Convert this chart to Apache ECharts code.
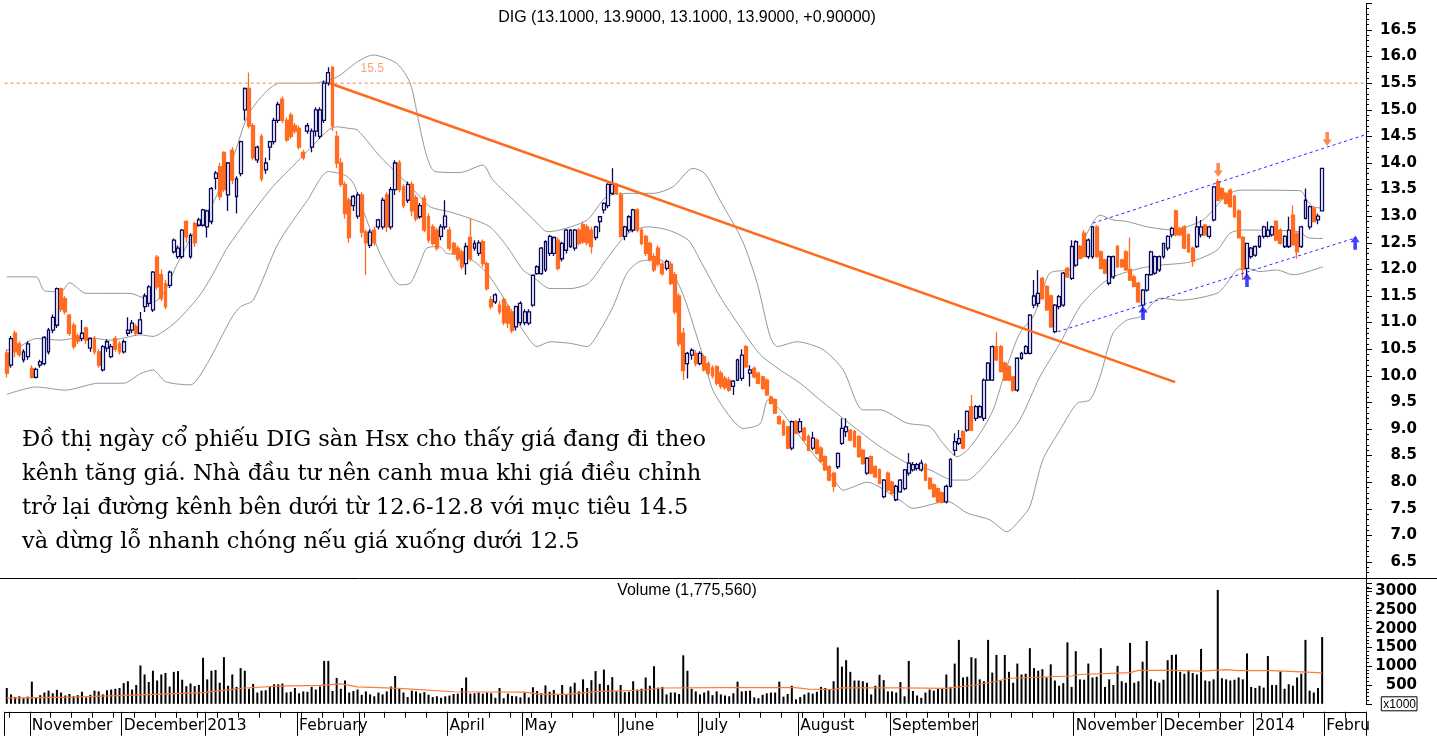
<!DOCTYPE html>
<html><head><meta charset="utf-8">
<script src="https://cdn.jsdelivr.net/npm/echarts@6.0.0/dist/echarts.min.js"></script>
<style>html,body{margin:0;padding:0;background:#fff}#c{width:1437px;height:736px}</style>
</head><body><div id="c"></div>
<script>
// ---------- DATA ----------
const monthLengths = [6,22,20,22,15,21,18,23,19,24,22,21,23,21,22,17];
const monthLabels = ['', 'November','December','2013','February','','April','May','June','July','August','September','','November','December','2014'];
const tailLabel = 'Febru';
const TOTAL_SLOTS = 326;

const opens = [
10.43,10.2,10.8,10.6,10.3,10.36,10.14,9.97,10.2,10.23,
10.45,10.86,10.95,11.64,11.45,11.14,10.95,10.75,10.7,10.9,
10.52,10.7,10.45,10.11,10.52,10.36,10.7,10.6,10.45,10.8,
10.86,10.93,10.8,11.3,11.36,11.24,12.23,11.9,11.73,11.7,
12.33,12.24,12.24,12.9,12.24,12.86,12.83,12.83,12.8,12.9,
13.71,13.93,14.2,13.4,14.24,13.37,13.8,15.0,15.4,14.7,
14.06,14.5,13.87,14.3,14.4,14.8,15.2,14.8,14.9,14.7,
14.65,14.2,14.6,14.3,14.6,14.5,14.8,15.5,15.8,14.5,
14.0,13.6,13.3,13.2,13.0,13.4,12.7,12.45,12.74,12.8,
12.8,13.4,12.8,13.5,14.0,13.55,13.3,13.6,13.35,12.99,
13.34,12.99,12.8,12.74,12.62,12.8,12.74,12.49,12.4,12.33,
12.11,12.6,12.4,12.3,12.52,12.11,11.43,11.39,11.33,11.43,
11.3,11.2,10.92,11.0,11.0,10.99,11.33,11.92,11.92,11.99,
12.3,12.3,12.55,12.2,12.36,12.43,12.4,12.74,12.84,12.8,
12.74,12.6,12.9,13.12,13.2,13.43,13.6,13.4,12.62,12.74,
12.74,13.12,12.74,12.62,12.49,12.24,12.4,12.1,12.02,12.1,
11.9,11.5,10.8,10.23,10.39,10.42,10.23,10.36,10.23,10.15,
10.17,10.05,9.95,9.92,9.8,9.92,9.95,10.55,10.05,10.14,
10.05,9.98,9.92,9.6,9.55,9.23,9.14,9.04,8.64,9.14,
8.95,9.01,8.86,8.64,8.79,8.64,8.48,8.29,8.17,8.29,
8.73,8.95,8.98,8.95,8.86,8.6,8.17,8.48,8.29,8.23,
7.73,8.17,8.0,7.67,7.82,7.88,8.17,8.23,8.26,8.23,
8.33,8.07,7.95,7.88,7.8,7.63,7.92,8.6,8.73,8.95,
8.98,9.42,9.2,9.23,9.2,9.92,9.92,10.55,10.55,10.24,
10.17,9.98,9.73,10.33,10.42,10.42,11.33,11.36,11.83,11.68,
11.5,10.83,11.3,11.33,12.02,11.83,12.08,12.43,12.68,12.24,
12.24,12.8,12.33,12.18,11.74,11.86,12.43,12.18,12.33,12.0,
11.86,11.74,11.33,11.61,11.9,11.93,11.99,12.24,12.4,12.65,
13.1,12.77,12.8,12.65,12.4,12.43,12.65,12.83,12.62,12.93,
13.65,13.52,13.43,13.49,13.37,13.1,12.6,12.02,12.24,12.27,
12.43,12.62,12.62,12.65,12.9,12.74,12.43,12.43,13.02,12.68,
12.43,12.96,12.8,13.15,12.93,13.1];
const highs = [
10.5,10.75,10.85,10.65,10.5,10.65,10.2,10.15,10.3,10.75,
10.9,11.15,11.66,11.66,11.5,11.16,11.0,10.8,11.05,10.92,
10.72,10.75,10.5,10.58,10.68,10.6,10.75,10.65,10.68,11.1,
11.05,10.98,11.2,11.55,11.7,11.97,12.27,12.0,11.8,11.98,
12.58,12.45,12.76,12.92,12.68,12.9,12.97,13.14,13.12,13.55,
13.85,14.0,14.22,14.02,14.3,13.75,14.42,15.42,15.7,14.75,
14.33,14.55,14.1,14.42,14.85,15.15,15.25,14.85,14.95,14.75,
14.7,14.25,14.75,14.65,15.05,15.05,15.55,15.8,15.82,14.6,
14.1,13.65,13.35,13.4,13.45,13.45,12.75,12.75,12.8,12.95,
13.35,13.45,13.55,14.05,14.05,13.6,13.65,13.65,13.4,13.25,
13.4,13.05,12.85,12.78,12.85,13.3,12.8,12.52,12.45,12.38,
12.5,12.95,12.55,12.55,12.56,12.15,11.5,11.55,11.4,11.48,
11.35,11.25,11.32,11.4,11.25,11.25,11.9,12.08,12.42,12.55,
12.65,12.62,12.6,12.52,12.76,12.76,12.76,12.78,12.9,12.85,
12.8,12.82,13.0,13.26,13.62,13.9,13.62,13.45,12.82,13.02,
13.14,13.15,12.78,12.65,12.52,12.3,12.45,12.15,12.18,12.15,
11.95,11.55,10.9,10.45,10.52,10.48,10.46,10.4,10.28,10.2,
10.2,10.1,10.0,9.98,9.92,10.32,10.5,10.58,10.2,10.18,
10.08,10.0,9.95,9.63,9.58,9.26,9.18,9.06,9.16,9.17,
9.2,9.04,8.9,8.95,8.82,8.68,8.5,8.32,8.2,8.56,
9.2,9.2,9.0,8.98,8.88,8.63,8.47,8.5,8.32,8.26,
8.06,8.2,8.03,7.95,8.06,8.25,8.55,8.38,8.36,8.42,
8.36,8.1,7.98,7.9,7.83,7.95,8.45,8.92,8.98,8.98,
9.35,9.64,9.45,9.45,9.95,10.26,10.57,10.83,10.58,10.27,
10.2,10.0,10.35,10.45,10.58,11.16,11.8,11.99,11.86,11.7,
11.53,11.35,11.52,11.95,12.05,12.55,12.55,12.46,12.74,12.58,
12.82,12.83,12.36,12.2,12.26,12.26,12.46,12.2,12.36,12.6,
11.9,11.77,11.63,11.92,12.35,12.26,12.26,12.5,12.64,12.8,
13.12,12.8,12.83,12.68,12.43,13.0,12.93,12.86,12.82,13.57,
13.7,13.55,13.46,13.52,13.4,13.13,12.63,12.5,12.42,12.45,
12.64,12.82,12.9,12.82,12.93,12.77,12.64,12.99,13.2,12.7,
12.82,13.52,13.2,13.18,13.05,13.9];
const lows = [
9.97,10.15,10.35,10.35,10.25,10.3,9.95,9.95,10.15,10.2,
10.4,10.8,10.9,11.2,11.15,10.75,10.5,10.6,10.65,10.6,
10.45,10.4,10.15,10.08,10.45,10.33,10.45,10.4,10.42,10.75,
10.8,10.75,10.78,11.2,11.3,11.2,11.62,11.4,11.25,11.65,
12.3,12.2,12.2,12.5,12.2,12.42,12.8,12.8,12.6,12.85,
13.5,13.3,13.45,13.1,13.6,13.05,13.75,14.8,14.65,14.05,
14.0,13.65,13.8,14.05,14.35,14.75,14.75,14.4,14.45,14.55,
14.25,14.05,14.55,14.2,14.5,14.45,14.75,15.45,14.6,13.9,
13.55,12.95,12.5,13.1,12.95,12.6,11.9,12.4,12.45,12.75,
12.75,12.7,12.75,13.4,13.45,13.15,13.25,13.0,12.9,12.95,
12.7,12.5,12.45,12.35,12.55,12.75,12.35,12.28,12.15,12.0,
11.9,12.15,12.35,12.25,12.05,11.6,11.25,11.35,11.15,10.95,
10.9,10.8,10.85,10.95,10.95,10.95,11.3,11.9,11.9,11.95,
12.25,12.25,11.98,12.15,12.3,12.4,12.35,12.45,12.48,12.45,
12.3,12.55,12.7,13.05,13.15,13.4,13.4,12.6,12.55,12.7,
12.7,12.7,12.45,12.25,12.15,11.95,12.05,11.88,11.98,11.7,
11.15,10.55,9.92,9.95,10.3,10.18,10.2,10.08,10.0,9.95,
9.82,9.75,9.74,9.7,9.64,9.9,9.9,10.15,9.8,9.95,
9.84,9.74,9.62,9.46,9.28,9.08,8.87,8.62,8.6,8.9,
8.92,8.77,8.58,8.6,8.52,8.37,8.21,8.02,7.82,8.25,
8.7,8.85,8.77,8.65,8.46,8.33,8.14,8.15,8.08,7.96,
7.7,7.83,7.77,7.64,7.8,7.85,8.12,8.2,8.22,8.2,
8.02,7.86,7.71,7.61,7.6,7.6,7.9,8.5,8.7,8.62,
8.95,8.96,9.15,9.2,9.15,9.9,9.9,10.28,10.06,9.9,
9.9,9.7,9.7,10.3,10.4,10.4,11.27,11.3,11.43,11.22,
10.9,10.8,11.25,11.3,11.84,11.8,12.05,12.19,12.22,12.2,
12.2,12.22,12.0,11.91,11.7,11.82,12.03,12.03,11.97,11.78,
11.66,11.37,11.2,11.58,11.88,11.9,11.95,12.2,12.35,12.6,
12.62,12.63,12.38,12.31,12.05,12.4,12.6,12.63,12.58,12.9,
13.28,13.31,13.22,13.16,12.97,12.58,11.8,11.86,12.2,12.24,
12.4,12.58,12.6,12.62,12.53,12.47,12.4,12.4,12.44,12.2,
12.4,12.94,12.75,12.88,12.85,13.1];
const closes = [
10.05,10.7,10.45,10.4,10.45,10.6,9.97,10.12,10.26,10.72,
10.86,11.1,11.64,11.25,11.2,10.8,10.55,10.65,10.8,10.67,
10.7,10.45,10.2,10.55,10.64,10.55,10.5,10.45,10.64,10.86,
10.99,10.8,11.05,11.5,11.67,11.95,11.67,11.45,11.3,11.95,
12.55,12.4,12.74,12.61,12.64,12.5,12.93,13.12,13.1,13.52,
13.81,13.37,13.5,14.0,13.68,13.7,14.4,15.4,14.7,14.1,
14.3,13.7,14.0,14.4,14.8,15.1,14.8,14.43,14.5,14.6,
14.3,14.1,14.7,14.6,15.0,15.0,15.5,15.7,14.7,14.0,
13.6,13.05,12.6,13.37,13.4,12.7,12.5,12.7,12.5,12.93,
13.3,12.8,13.5,14.0,13.5,13.2,13.6,13.1,12.95,13.2,
12.74,12.55,12.49,12.4,12.8,13.0,12.4,12.3,12.2,12.05,
12.43,12.2,12.49,12.5,12.11,11.64,11.3,11.52,11.2,11.0,
10.99,10.85,11.3,11.36,11.2,11.2,11.89,12.05,12.4,12.52,
12.62,12.6,12.02,12.49,12.74,12.74,12.74,12.49,12.52,12.5,
12.43,12.8,12.99,13.24,13.6,13.6,13.43,12.62,12.8,12.99,
13.12,12.74,12.49,12.3,12.18,11.99,12.1,11.92,12.15,11.74,
11.2,10.6,10.1,10.42,10.48,10.23,10.42,10.11,10.05,10.0,
9.86,9.8,9.78,9.73,9.9,10.3,10.39,10.17,10.11,9.98,
9.86,9.76,9.64,9.48,9.3,9.1,8.89,8.64,9.14,8.92,
9.14,8.79,8.6,8.83,8.54,8.39,8.23,8.04,7.92,8.54,
9.01,9.04,8.79,8.67,8.48,8.35,8.45,8.17,8.1,7.98,
8.04,7.85,7.79,7.92,8.04,8.23,8.36,8.33,8.33,8.36,
8.04,7.88,7.73,7.63,7.62,7.92,8.43,8.76,8.82,8.64,
9.33,8.98,9.42,9.42,9.92,10.24,10.55,10.3,10.08,9.92,
9.92,9.73,10.33,10.42,10.55,11.14,11.5,11.55,11.45,11.24,
10.92,11.33,11.49,11.93,11.86,12.43,12.52,12.21,12.24,12.55,
12.8,12.24,12.02,11.93,12.24,12.24,12.05,12.05,11.99,11.8,
11.68,11.39,11.61,11.9,12.33,12.24,12.24,12.49,12.62,12.77,
12.65,12.65,12.4,12.33,12.15,12.8,12.8,12.65,12.8,13.55,
13.3,13.33,13.24,13.18,12.99,12.6,12.0,12.49,12.4,12.43,
12.62,12.8,12.74,12.8,12.55,12.49,12.62,12.74,12.46,12.33,
12.8,13.3,13.18,12.9,13.0,13.9];
const volumes = [
420,250,180,200,150,190,590,170,230,300,
350,280,370,300,220,260,200,230,320,170,
240,350,330,250,360,380,400,420,550,600,
380,500,1020,780,580,880,620,780,820,460,
850,870,640,470,540,470,500,1225,650,880,
900,560,1240,480,780,450,950,880,400,530,
300,350,360,450,520,520,540,300,320,420,
280,330,320,450,380,460,1140,1140,340,690,
400,620,300,340,380,240,330,250,200,300,
250,330,460,740,420,300,180,350,330,280,
310,240,180,200,160,200,220,260,270,420,
700,270,280,300,270,300,280,160,420,150,
270,210,200,170,300,170,440,340,280,490,
320,370,250,500,260,460,560,330,650,420,
630,870,530,910,500,710,330,500,310,320,
600,380,400,700,480,1000,430,450,250,300,
300,260,1290,880,400,330,250,300,350,230,
330,250,220,200,280,590,330,340,350,170,
150,240,280,300,300,590,190,260,480,120,
180,250,300,270,320,450,420,380,600,1500,
990,1160,850,620,620,600,560,250,480,770,
630,330,330,300,580,200,1140,340,220,160,
300,380,350,400,410,780,450,1070,1700,700,
720,1240,1210,650,600,1700,830,1300,620,1300,
850,560,1070,780,800,1480,950,880,920,700,
1050,620,480,550,1635,450,1400,650,640,1070,
700,720,1480,450,650,500,1010,600,560,1620,
560,600,1120,1670,650,600,560,640,1160,1300,
1310,850,800,900,820,780,1460,620,600,650,
3030,680,650,620,640,700,650,1340,450,420,
480,430,1270,500,500,860,400,520,480,700,
800,1700,350,300,420,1775.56];
// volume moving average, read at sample points [index, value]
const volMA = [[0,150],[16,175],[28,225],[47,295],[57,420],[65,470],[75,490],[80,530],[84,450],[94,410],[107,320],[124,310],[128,250],[134,250],[142,330],[152,360],[157,420],[171,430],[189,430],[192,390],[198,380],[200,425],[214,425],[225,410],[232,500],[237,600],[240,680],[255,740],[257,780],[269,830],[271,890],[279,890],[286,870],[292,910],[295,880],[303,880],[310,850],[315,820]];
// Bollinger bands read at sample points [index, price]
const bbUpper = [[0,11.86],[7,11.86],[9,11.6],[13,11.58],[15,11.75],[19,11.55],[29.5,11.55],[33.1,11.45],[35.5,11.4],[37.9,11.6],[40.8,12.1],[46.3,12.9],[49.4,13.25],[54.2,14.1],[58.2,14.96],[65.4,15.5],[73.3,15.5],[77.4,15.56],[79.8,15.65],[83.9,15.9],[87.7,16.03],[93.4,15.87],[96.6,15.5],[98.9,14.68],[100.6,14.12],[102.5,13.84],[108.5,13.82],[114,13.96],[116.4,13.68],[122.2,13.24],[127,12.87],[129.4,12.71],[132.5,12.74],[139,12.93],[143.7,13.37],[150,13.43],[154.8,13.43],[159.5,13.55],[164.3,13.9],[167.2,13.8],[170.8,13.3],[176.1,12.55],[179.7,11.74],[182.8,10.74],[184.5,10.55],[189.2,10.64],[195.5,10.49],[200.3,10.11],[205,9.36],[209.1,9.36],[215.6,9.11],[221.1,9.04],[224.2,8.73],[227.6,8.48],[230,8.6],[233.1,8.92],[236.2,9.36],[239.5,10.17],[242.6,10.8],[245.8,11.11],[247.4,11.42],[249.8,11.93],[255.3,12.02],[258.7,12.68],[261.8,13.02],[264.9,12.93],[268.3,12.9],[273.1,12.8],[279.3,12.74],[282.6,12.8],[286.5,12.93],[288.9,13.12],[292.2,13.4],[295.3,13.49],[309.7,13.48],[311.4,13.3],[312.8,13.18],[315.2,13.15]];
const bbMiddle = [[0,10.48],[3,10.55],[7,10.7],[13,10.67],[18,10.73],[25,10.67],[32,10.77],[35,10.74],[38,10.86],[41,11.05],[46,11.49],[49,11.86],[53,12.43],[63,13.49],[70,14.06],[77,14.62],[79,14.68],[82,14.65],[84,14.62],[89.4,14.12],[93.4,13.81],[98.2,13.43],[101.3,13.18],[106.1,13.08],[110.9,12.96],[115.7,12.8],[119.8,12.43],[123.6,11.99],[126,11.86],[130.1,11.64],[134.9,11.64],[139.3,11.74],[144.1,12.24],[148.8,12.68],[153.6,12.8],[158.4,12.74],[163.2,12.55],[166,12.18],[170.8,11.49],[175.6,10.92],[180.4,10.4],[185.2,10.11],[190,9.86],[194.7,9.55],[201.9,9.1],[209.1,8.67],[215.6,8.36],[221.1,8.23],[226.6,8.04],[230,8.04],[233.1,8.23],[237.8,8.67],[242.6,9.17],[247.4,9.98],[252.2,10.61],[257,11.3],[261.8,11.7],[264.9,11.86],[271.4,12.02],[276.2,12.08],[283.4,12.14],[289.8,12.36],[292.9,12.68],[296,12.74],[309.7,12.71],[311.4,12.6],[315.2,12.58]];
const bbLower = [[0,9.65],[7,9.79],[14,9.73],[22,9.86],[28,9.86],[32,10.04],[35,10.11],[38,9.89],[44,9.83],[48,10.23],[51,10.67],[54,11.11],[56,11.3],[59,11.42],[65,12.49],[72,13.3],[77,13.84],[81,13.77],[83,13.62],[85.3,13.12],[87.7,12.62],[90.1,12.18],[94.2,11.71],[96.6,11.74],[98.9,12.11],[100.6,12.4],[103.7,12.43],[105.4,12.3],[109.3,12.27],[112.6,12.11],[115.7,11.86],[119.8,11.36],[123.6,10.86],[127,10.55],[130.1,10.64],[134.9,10.61],[139,10.55],[142.1,10.86],[145.2,11.3],[148.5,11.93],[151.6,12.15],[156.4,12.18],[161.2,11.67],[166,10.55],[169.1,9.73],[173.2,9.23],[176.3,9.01],[180.4,9.1],[182.3,9.55],[185.2,9.36],[188.3,9.04],[193,8.54],[197.1,8.17],[200.3,7.85],[203,7.92],[206,8.0],[213.9,7.66],[217,7.51],[225.2,7.64],[230,7.42],[235.5,7.29],[239.5,7.07],[242.6,7.29],[245,7.54],[248.1,8.42],[252.2,8.98],[256.3,9.48],[259.4,9.55],[261.8,9.98],[264.9,10.8],[268.3,11.05],[271.4,11.11],[276.2,11.46],[281,11.42],[289.8,11.55],[292.2,11.74],[294.6,11.99],[297,12.02],[300.1,11.96],[304.2,11.99],[308,11.9],[310.4,11.93],[315.2,12.05]];
// drawn lines [index, price]
const trendLine = [[77.3,15.5],[279.8,9.88]];
const resistance = [[-0.5,15.5],[325.5,15.5]];
const resistanceLabel = [[87.5,15.5]];
const channelUpper = [[260.1,12.87],[325.3,14.53]];
const channelLower = [[251.7,10.83],[323.3,12.6]];
const downArrows = [[290.1,13.87],[316.2,14.45]];
const upArrows = [[272.1,11.18],[297,11.8],[322.9,12.5]];
const titleText = 'DIG (13.1000, 13.9000, 13.1000, 13.9000, +0.90000)';
const volumeTitle = 'Volume (1,775,560)';
const noteLines = [
 'Đồ thị ngày cổ phiếu DIG sàn Hsx cho thấy giá đang đi theo',
 'kênh tăng giá. Nhà đầu tư nên canh mua khi giá điều chỉnh',
 'trở lại đường kênh bên dưới từ 12.6-12.8 với mục tiêu 14.5',
 'và dừng lỗ nhanh chóng nếu giá xuống dưới 12.5'];

// ---------- BUILD ----------
const NAVY = '#08085e', ORANGE = '#ff6c22', GRAY = '#979797';
const cats = Array.from({length: TOTAL_SLOTS}, (_, i) => 'd' + i);
const monthStarts = []; let acc = 0;
monthLengths.forEach(n => { monthStarts.push(acc); acc += n; });
monthStarts.push(acc);
const labelAt = {};
monthStarts.forEach((s, k) => { const t = k < monthLabels.length ? monthLabels[k] : tailLabel; if (t) labelAt[s] = t; });
const monthSet = new Set(monthStarts);
const candles = opens.map((o, i) => [o, closes[i], lows[i], highs[i]]);

const LEFT = 4.7, RIGHT = 71;
const SANS = 'Liberation Sans, Arial, sans-serif';
const DSANS = 'DejaVu Sans, sans-serif';

const chart = echarts.init(document.getElementById('c'), null, {renderer: 'canvas'});
chart.setOption({
  animation: false,
  backgroundColor: '#ffffff',
  title: [
    {text: titleText, left: 687, top: 10, textAlign: 'center', padding: 0,
     textStyle: {fontFamily: SANS, fontSize: 16, fontWeight: 'normal', color: '#000'}},
    {text: volumeTitle, left: 687, top: 583, textAlign: 'center', padding: 0,
     textStyle: {fontFamily: SANS, fontSize: 16, fontWeight: 'normal', color: '#000'}},
    {text: noteLines.join('\n'), left: 22, top: 423, padding: 0,
     textStyle: {fontFamily: 'DejaVu Serif, serif', fontSize: 22.5, fontWeight: 'normal', lineHeight: 34, color: '#000'}}
  ],
  grid: [
    {left: LEFT, right: RIGHT, top: 3.4, height: 585.2},
    {left: LEFT, right: RIGHT, top: 583.5, height: 120.3}
  ],
  xAxis: [
    {type: 'category', gridIndex: 0, data: cats, boundaryGap: true, axisLine: {show: false}, axisTick: {show: false}, axisLabel: {show: false}},
    {type: 'value', gridIndex: 0, min: -0.5, max: 325.5, show: false},
    {type: 'category', gridIndex: 1, data: cats, boundaryGap: true, position: 'bottom', offset: 8,
     axisLine: {show: true, onZero: false, lineStyle: {color: '#000', width: 1}},
     axisTick: {show: true, length: 24, interval: (i) => monthSet.has(i), lineStyle: {color: '#000', width: 1}},
     axisLabel: {show: true, interval: (i) => labelAt[i] !== undefined, formatter: (v, i) => labelAt[i] || '',
       align: 'left', margin: 6, color: '#000', fontFamily: DSANS, fontSize: 15.5}},
    {type: 'category', gridIndex: 1, data: cats, boundaryGap: true, position: 'bottom', offset: 8,
     axisLine: {show: false, onZero: false}, axisLabel: {show: false},
     axisTick: {show: true, length: 6, interval: (i) => (i % 5 === 1), lineStyle: {color: '#000'}}},
    {type: 'value', gridIndex: 1, min: -0.5, max: 325.5, show: false}
  ],
  yAxis: [
    {type: 'value', gridIndex: 0, position: 'right', min: 6, max: 17, interval: 0.5,
     axisLine: {show: true, onZero: false, lineStyle: {color: '#000'}},
     axisTick: {show: true, length: 6, lineStyle: {color: '#000'}},
     minorTick: {show: true, splitNumber: 5, length: 3, lineStyle: {color: '#000'}},
     splitLine: {show: false},
     axisLabel: {align: 'right', margin: 51, color: '#000', fontFamily: DSANS, fontWeight: 'bold', fontSize: 15,
       formatter: v => (v < 6.4 || v > 16.9) ? '' : v.toFixed(1)}},
    {type: 'value', gridIndex: 1, position: 'right', min: 0, max: 3200, interval: 500,
     axisLine: {show: true, onZero: false, lineStyle: {color: '#000'}},
     axisTick: {show: true, length: 6, lineStyle: {color: '#000'}},
     minorTick: {show: true, splitNumber: 5, length: 3, lineStyle: {color: '#000'}},
     splitLine: {show: false},
     axisLabel: {align: 'right', margin: 51, color: '#000', fontFamily: DSANS, fontWeight: 'bold', fontSize: 15,
       formatter: v => v === 0 ? '{b|x1000}' : ((v % 500 === 0 && v <= 3000) ? String(v) : ''),
       rich: {b: {fontFamily: SANS, fontSize: 12, fontWeight: 'normal', color: '#000', borderColor: '#000', borderWidth: 1, padding: [2, 1, 0, 2]}}}}
  ],
  series: [
    {type: 'line', name: 'bbU', xAxisIndex: 1, yAxisIndex: 0, data: bbUpper, symbol: 'none', smooth: 0.25, lineStyle: {color: GRAY, width: 1}, z: 1},
    {type: 'line', name: 'bbM', xAxisIndex: 1, yAxisIndex: 0, data: bbMiddle, symbol: 'none', smooth: 0.25, lineStyle: {color: GRAY, width: 1}, z: 1},
    {type: 'line', name: 'bbL', xAxisIndex: 1, yAxisIndex: 0, data: bbLower, symbol: 'none', smooth: 0.25, lineStyle: {color: GRAY, width: 1}, z: 1},
    {type: 'line', name: 'res', xAxisIndex: 1, yAxisIndex: 0, data: resistance, symbol: 'none', lineStyle: {color: '#ffab85', width: 1.5, type: [3, 3]}, z: 1},
    {type: 'scatter', xAxisIndex: 1, yAxisIndex: 0, data: resistanceLabel, symbolSize: 1, itemStyle: {color: 'rgba(0,0,0,0)'}, z: 2,
     label: {show: true, formatter: '15.5', position: 'top', distance: 8, color: '#ff8a55', fontFamily: SANS, fontSize: 12}},
    {type: 'candlestick', xAxisIndex: 0, yAxisIndex: 0, data: candles, barWidth: 3.4,
     itemStyle: {color: '#ffffff', color0: ORANGE, borderColor: NAVY, borderColor0: ORANGE, borderWidth: 1.3}, z: 3},
    {type: 'line', name: 'trend', xAxisIndex: 1, yAxisIndex: 0, data: trendLine, symbol: 'none', lineStyle: {color: '#ff6a1c', width: 2.5}, z: 5},
    {type: 'line', name: 'chU', xAxisIndex: 1, yAxisIndex: 0, data: channelUpper, symbol: 'none', lineStyle: {color: '#2a2aff', width: 1, type: [3, 3]}, z: 5},
    {type: 'line', name: 'chL', xAxisIndex: 1, yAxisIndex: 0, data: channelLower, symbol: 'none', lineStyle: {color: '#2a2aff', width: 1, type: [3, 3]}, z: 5},
    {type: 'scatter', xAxisIndex: 1, yAxisIndex: 0, data: downArrows, symbol: 'path://M3,0L7,0L7,7L10,7L5,13L0,7L3,7Z', symbolSize: [9, 14], itemStyle: {color: ORANGE}, z: 6},
    {type: 'scatter', xAxisIndex: 1, yAxisIndex: 0, data: upArrows, symbol: 'path://M5,0L10,6L7,6L7,13L3,13L3,6L0,6Z', symbolSize: [9, 14], itemStyle: {color: '#1010ff'}, z: 6},
    {type: 'bar', xAxisIndex: 2, yAxisIndex: 1, data: volumes, barWidth: 2, itemStyle: {color: '#000'}, z: 2},
    {type: 'line', xAxisIndex: 4, yAxisIndex: 1, data: volMA, symbol: 'none', lineStyle: {color: '#ff7a3a', width: 1.2}, z: 3}
  ],
  graphic: [
    {type: 'line', shape: {x1: 0, y1: 578.5, x2: 1437, y2: 578.5}, style: {stroke: '#000', lineWidth: 1}, z: 10}
  ]
});
</script></body></html>
